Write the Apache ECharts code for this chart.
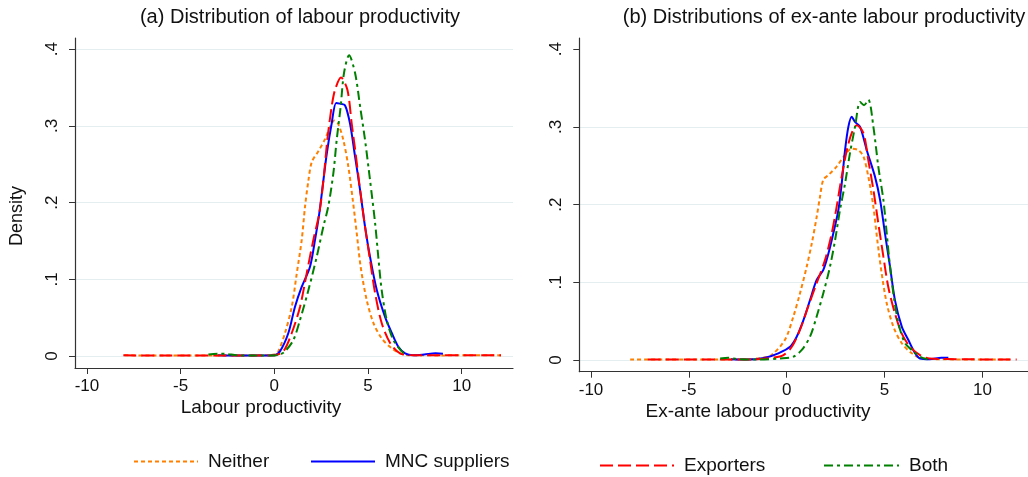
<!DOCTYPE html>
<html>
<head>
<meta charset="utf-8">
<script src="https://cdn.jsdelivr.net/npm/echarts@6/dist/echarts.min.js"></script>
<style>
html,body{margin:0;padding:0;background:#fff;}
#chart{width:1028px;height:477px;}
</style>
</head>
<body>
<div id="chart"></div>
<script>
// ---- data (x, density) ----
const seriesNames = ['Neither', 'MNC suppliers', 'Exporters', 'Both'];
const xTicks = [-10, -5, 0, 5, 10];
const yTicks = [0, 0.1, 0.2, 0.3, 0.4];
const yTickLabels = ['0', '.1', '.2', '.3', '.4'];

// panel (a): labour productivity
const neitherA = [[-8,0.001],[-6,0.0005],[-4,0.0005],[-2,0.0005],[-1,0.0008],[-0.3,0.001],[0,0.002],[0.21,0.006],[0.57,0.03],[0.93,0.064],[1.2,0.108],[1.46,0.151],[1.64,0.195],[1.82,0.229],[2.0,0.253],[2.35,0.267],[2.71,0.283],[3.0,0.300],[3.2,0.307],[3.4,0.303],[3.68,0.282],[3.95,0.247],[4.19,0.203],[4.4,0.16],[4.61,0.116],[4.93,0.073],[5.29,0.043],[5.73,0.023],[6.27,0.010],[6.89,0.002],[7.5,0.001],[9,0.0008],[10.5,0.001],[12.1,0.0008]];
const mncA = [[-3,0.001],[-1.5,0.0005],[0,0.001],[0.3,0.006],[0.75,0.03],[1.1,0.064],[1.46,0.090],[1.9,0.116],[2.17,0.151],[2.4,0.186],[2.58,0.221],[2.8,0.264],[3.06,0.303],[3.3,0.330],[3.5,0.329],[3.77,0.327],[4.04,0.303],[4.31,0.26],[4.58,0.216],[4.84,0.169],[5.11,0.129],[5.47,0.086],[5.91,0.051],[6.27,0.030],[6.62,0.012],[6.98,0.0035],[7.4,0.001],[8,0.002],[8.6,0.0035],[9.0,0.003]];
const exportA = [[-8.06,0.001],[-6,0.0005],[-4,0.0008],[-2,0.0005],[0,0.001],[0.48,0.006],[0.93,0.030],[1.37,0.064],[1.73,0.108],[2.08,0.151],[2.4,0.186],[2.62,0.229],[2.83,0.282],[3.06,0.325],[3.24,0.347],[3.56,0.363],[3.9,0.347],[4.13,0.303],[4.36,0.26],[4.58,0.216],[4.84,0.169],[5.11,0.125],[5.38,0.082],[5.73,0.043],[6.18,0.017],[6.71,0.0035],[7.5,0.001],[9,0.001],[10.5,0.001],[12.1,0.001]];
const bothA = [[-3.52,0.002],[-3,0.003],[-2.54,0.0026],[-2,0.001],[-1,0.0005],[0,0.0008],[0.3,0.002],[0.57,0.006],[1.02,0.021],[1.37,0.047],[1.82,0.086],[2.26,0.129],[2.62,0.169],[2.88,0.195],[3.15,0.238],[3.33,0.282],[3.54,0.325],[3.72,0.369],[3.99,0.392],[4.31,0.369],[4.58,0.325],[4.84,0.282],[5.11,0.229],[5.38,0.173],[5.55,0.129],[5.73,0.086],[6.0,0.047],[6.35,0.021],[6.8,0.006],[7.1,0.001]];

// panel (b): ex-ante labour productivity
const neitherB = [[-8,0.0005],[-6,0.0005],[-4,0.0005],[-2,0.001],[-1.2,0.003],[-0.77,0.0064],[-0.09,0.026],[0.34,0.056],[0.68,0.086],[1.02,0.120],[1.28,0.150],[1.53,0.184],[1.7,0.210],[1.87,0.232],[2.13,0.238],[2.55,0.249],[2.98,0.264],[3.32,0.272],[3.66,0.270],[3.92,0.262],[4.17,0.236],[4.43,0.197],[4.63,0.154],[4.85,0.112],[5.11,0.073],[5.45,0.043],[5.88,0.0215],[6.39,0.0086],[6.9,0.002],[8,0.001],[10,0.0005],[11.5,0.0005]];
const mncB = [[-2.85,0.001],[-2,0.0005],[-1.1,0.003],[-0.43,0.0086],[0.17,0.017],[0.51,0.030],[0.85,0.051],[1.19,0.077],[1.53,0.103],[1.87,0.116],[2.13,0.137],[2.38,0.163],[2.64,0.193],[2.81,0.227],[2.98,0.270],[3.15,0.300],[3.32,0.313],[3.5,0.306],[3.75,0.300],[4.09,0.270],[4.51,0.236],[4.77,0.206],[5.02,0.163],[5.28,0.12],[5.53,0.077],[5.88,0.043],[6.21,0.026],[6.56,0.0086],[6.81,0.002],[7.3,0.001],[7.9,0.003],[8.26,0.003]];
const exportB = [[-7.1,0.0005],[-5,0.0005],[-3,0.0005],[-1.5,0.001],[-0.7,0.003],[-0.17,0.0064],[0.26,0.017],[0.68,0.039],[1.1,0.069],[1.53,0.099],[1.96,0.129],[2.3,0.163],[2.55,0.197],[2.81,0.236],[3.07,0.270],[3.32,0.292],[3.58,0.302],[3.92,0.292],[4.17,0.257],[4.43,0.219],[4.68,0.176],[4.94,0.133],[5.19,0.094],[5.53,0.060],[5.88,0.034],[6.3,0.017],[6.81,0.0064],[7.3,0.002],[9,0.001],[11.75,0.0005]];
const bothB = [[-3.4,0.002],[-2.98,0.003],[-2.5,0.001],[-1.5,0.0005],[-0.34,0.002],[0.34,0.0043],[0.77,0.0129],[1.19,0.030],[1.53,0.056],[1.87,0.086],[2.21,0.12],[2.47,0.154],[2.72,0.193],[2.98,0.227],[3.23,0.266],[3.49,0.300],[3.75,0.332],[3.95,0.328],[4.17,0.335],[4.43,0.300],[4.68,0.249],[4.94,0.206],[5.11,0.163],[5.28,0.12],[5.5,0.077],[5.75,0.043],[6.05,0.0215],[6.39,0.0129],[6.81,0.0043],[7.2,0.001]];

// ---- styling ----
const FONT = '"Liberation Sans", Arial, Helvetica, sans-serif';
const TXT = '#111';
const GRID = '#e4eef0';
const styles = {
  'Neither':       {color: '#ff8000', type: [4, 3]},
  'MNC suppliers': {color: '#0000ff', type: 'solid'},
  'Exporters':     {color: '#ff0000', type: [13, 5]},
  'Both':          {color: '#008000', type: [9, 4, 3, 4]}
};

const chart = echarts.init(document.getElementById('chart'), null, {renderer: 'canvas'});

function xAxisCfg(gridIndex, min, max) {
  return {
    type: 'value', gridIndex, min, max,
    axisLine: {show: true, onZero: false, lineStyle: {color: '#333', width: 1.2}},
    axisTick: {show: true, customValues: xTicks, length: 6, lineStyle: {color: '#333'}},
    axisLabel: {customValues: xTicks, color: TXT, fontSize: 17, fontFamily: FONT, margin: 10},
    splitLine: {show: false}
  };
}
function yAxisCfg(gridIndex, min, max, gridColors) {
  return {
    type: 'value', gridIndex, min, max,
    axisLine: {show: true, onZero: false, lineStyle: {color: '#333', width: 1.2}},
    axisTick: {show: true, customValues: yTicks, length: 6, lineStyle: {color: '#333'}},
    axisLabel: {customValues: yTicks, rotate: 90, color: TXT, fontSize: 17, fontFamily: FONT, margin: 14,
      formatter: v => yTickLabels[yTicks.findIndex(t => Math.abs(t - v) < 1e-9)]},
    splitLine: {show: true, lineStyle: {color: gridColors, width: 1.2}}
  };
}
function line(name, data, idx) {
  const s = styles[name];
  return {
    name, type: 'line', data, xAxisIndex: idx, yAxisIndex: idx,
    smooth: 0.3, symbol: 'none', showSymbol: false, animation: false,
    lineStyle: {color: s.color, width: 2, type: s.type},
    itemStyle: {color: s.color}
  };
}
function legendCfg(name, left, top, w) {
  return {
    data: [name], left, top, itemWidth: w, itemHeight: 14, padding: 0,
    itemStyle: {opacity: 0, borderWidth: 0},
    textStyle: {color: TXT, fontSize: 19, fontFamily: FONT, padding: [0, 0, 0, 5]},
    selectedMode: false
  };
}

const option = {
  animation: false,
  backgroundColor: '#fff',
  grid: [
    {left: 75, right: 1028 - 513, top: 38, bottom: 477 - 368},
    {left: 579.3, right: 0, top: 38, bottom: 477 - 371.7}
  ],
  xAxis: [xAxisCfg(0, -10.64, 12.74), xAxisCfg(1, -10.6, 12.33)],
  yAxis: [
    yAxisCfg(0, -0.01565, 0.4146, [GRID]),
    yAxisCfg(1, -0.01506, 0.4144, [GRID, GRID, GRID, GRID, 'rgba(0,0,0,0)'])
  ],
  legend: [
    legendCfg('Neither', 133, 452, 64),
    legendCfg('MNC suppliers', 310, 452, 64),
    legendCfg('Exporters', 599, 456, 74),
    legendCfg('Both', 823, 456, 75)
  ],
  series: [
    line('Neither', neitherA, 0), line('MNC suppliers', mncA, 0), line('Exporters', exportA, 0), line('Both', bothA, 0),
    line('Neither', neitherB, 1), line('MNC suppliers', mncB, 1), line('Exporters', exportB, 1), line('Both', bothB, 1)
  ],
  graphic: [
    {type: 'text', x: 300, y: 17, style: {text: '(a) Distribution of labour productivity', font: '20px ' + FONT, fill: TXT, textAlign: 'center', textVerticalAlign: 'middle'}},
    {type: 'text', x: 824, y: 17, style: {text: '(b) Distributions of ex-ante labour productivity', font: '20px ' + FONT, fill: TXT, textAlign: 'center', textVerticalAlign: 'middle'}},
    {type: 'text', x: 261, y: 408, style: {text: 'Labour productivity', font: '19px ' + FONT, fill: TXT, textAlign: 'center', textVerticalAlign: 'middle'}},
    {type: 'text', x: 758, y: 412, style: {text: 'Ex-ante labour productivity', font: '19px ' + FONT, fill: TXT, textAlign: 'center', textVerticalAlign: 'middle'}},
    {type: 'text', x: 17, y: 216, rotation: Math.PI / 2, style: {text: 'Density', font: '18px ' + FONT, fill: TXT, textAlign: 'center', textVerticalAlign: 'middle'}}
  ]
};
chart.setOption(option);
</script>
</body>
</html>
